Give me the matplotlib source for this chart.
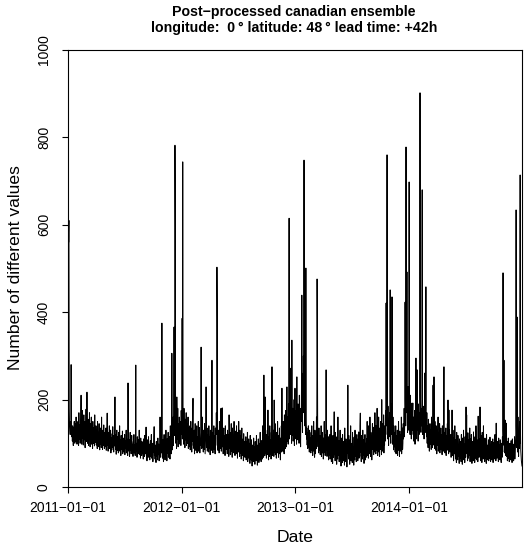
import matplotlib
matplotlib.use("Agg")
import matplotlib.pyplot as plt
import pandas as pd

plt.rcParams['font.family'] = ['Liberation Sans', 'DejaVu Sans']

start_date = "2011-01-01"
tick_dates = ["2011-01-01", "2012-01-01", "2013-01-01", "2014-01-01"]
tick_labels = ["2011\u221201\u221201", "2012\u221201\u221201", "2013\u221201\u221201", "2014\u221201\u221201"]
y_ticks = [0, 200, 400, 600, 800, 1000]

values = [
    150, 625, 560, 610, 180, 140, 130, 120, 150, 125, 280, 160, 115, 130, 105, 140, 120, 95, 135, 110, 150, 125, 100, 145, 118, 105, 160, 130, 112, 98,
    132, 105, 150, 118, 95, 170, 128, 110, 142, 100, 125, 160, 210, 135, 98, 120, 175, 112, 140, 96, 130, 165, 108, 122, 150, 90, 138, 115, 178, 104,
    126, 217, 140, 100, 118, 155, 95, 132, 110, 170, 122, 92, 145, 105, 128, 160, 98, 115, 138, 88, 150, 112, 100, 135, 120, 94, 165, 108, 125, 102,
    140, 96, 118, 130, 88, 150, 110, 100, 125, 92, 145, 105, 85, 120, 135, 98, 112, 90, 160, 102, 118, 86, 130, 108, 95, 142, 100, 88, 115, 125,
    92, 110, 135, 84, 100, 120, 169, 95, 108, 82, 125, 98, 115, 140, 88, 104, 92, 130, 78, 112, 100, 85, 122, 96, 138, 90, 105, 80, 118, 94,
    110, 206, 98, 86, 120, 75, 105, 130, 92, 84, 115, 100, 78, 125, 95, 88, 140, 82, 108, 96, 72, 118, 90, 104, 85, 128, 76, 100, 92, 112,
    80, 98, 120, 74, 105, 88, 95, 130, 78, 110, 86, 100, 72, 238, 115, 90, 82, 108, 70, 95, 125, 84, 102, 76, 92, 118, 80, 98, 88, 70,
    104, 85, 120, 78, 96, 88, 72, 110, 279, 90, 82, 100, 68, 115, 86, 94, 76, 108, 80, 130, 74, 98, 88, 66, 112, 84, 92, 72, 104, 86,
    78, 96, 64, 110, 82, 90, 70, 118, 76, 100, 86, 137, 72, 94, 60, 108, 80, 88, 68, 115, 84, 74, 98, 62, 90, 106, 70, 82, 120, 66,
    88, 76, 100, 58, 92, 80, 110, 138, 72, 84, 64, 96, 78, 56, 104, 86, 70, 90, 62, 112, 80, 74, 98, 60, 88, 76, 160, 84, 68, 100,
    78, 94, 375, 90, 66, 108, 80, 58, 96, 120, 72, 88, 62, 104, 84, 130, 70, 92, 60, 110, 78, 86, 125, 68, 98, 74, 115, 82, 64, 140,
    90, 120, 76, 105, 306, 130, 85, 110, 160, 95, 140, 366, 118, 150, 782, 595, 125, 100, 170, 88, 206, 135, 110, 180, 92, 145, 120, 98, 160, 115,
    130, 105, 150, 95, 175, 120, 140, 386, 110, 744, 165, 125, 98, 180, 115, 140, 90, 155, 130, 108, 170, 95, 125, 145, 100, 118, 160, 88, 135, 110,
    92, 125, 140, 85, 110, 150, 98, 120, 80, 135, 105, 160, 203, 95, 118, 88, 130, 76, 112, 145, 100, 84, 125, 96, 140, 78, 108, 115, 90, 150,
    82, 118, 100, 136, 78, 110, 95, 125, 320, 140, 88, 105, 160, 92, 120, 80, 130, 100, 86, 145, 110, 76, 98, 125, 229, 115, 90, 135, 82, 108,
    96, 120, 80, 140, 105, 88, 115, 74, 130, 98, 110, 84, 150, 290, 100, 125, 78, 108, 92, 140, 86, 118, 102, 76, 135, 95, 112, 170, 120, 503,
    375, 110, 84, 130, 96, 120, 78, 150, 105, 88, 140, 95, 180, 82, 115, 100, 181, 92, 125, 76, 108, 135, 88, 118, 98, 72, 140, 104, 86, 120,
    90, 110, 76, 130, 98, 84, 120, 70, 165, 102, 88, 125, 74, 112, 95, 145, 82, 106, 68, 135, 96, 78, 118, 90, 150, 84, 100, 72, 128, 92,
    110, 76, 140, 88, 104, 66, 125, 95, 80, 150, 86, 112, 70, 130, 92, 78, 118, 64, 100, 135, 84, 96, 72, 110, 60, 122, 88, 76, 104, 68,
    96, 80, 115, 62, 88, 104, 70, 125, 58, 92, 78, 110, 66, 84, 100, 54, 118, 74, 90, 62, 108, 80, 48, 96, 70, 86, 58, 112, 76, 64,
    92, 52, 104, 72, 84, 60, 118, 78, 96, 50, 88, 68, 110, 74, 56, 100, 82, 62, 125, 70, 90, 58, 106, 76, 86, 64, 140, 80, 98, 68,
    256, 88, 110, 72, 206, 95, 78, 120, 66, 104, 86, 130, 74, 176, 98, 62, 115, 84, 70, 140, 92, 76, 108, 64, 125, 88, 275, 100, 72, 118,
    84, 130, 70, 199, 96, 80, 145, 74, 110, 88, 66, 125, 92, 78, 150, 84, 104, 68, 118, 90, 135, 76, 100, 62, 112, 86, 140, 80, 226, 94,
    120, 82, 150, 96, 110, 76, 165, 100, 130, 88, 175, 115, 92, 140, 229, 105, 160, 125, 98, 190, 145, 615, 110, 170, 135, 120, 210, 272, 150, 100,
    336, 140, 118, 180, 105, 160, 128, 200, 95, 150, 226, 120, 175, 110, 145, 98, 252, 130, 165, 108, 190, 125, 140, 100, 210, 115, 155, 135, 92, 180,
    150, 240, 439, 200, 125, 260, 170, 300, 185, 748, 230, 140, 195, 160, 120, 501, 150, 110, 135, 96, 125, 88, 115, 140, 92, 108, 80, 130, 100, 86,
    112, 78, 125, 95, 140, 84, 104, 72, 118, 90, 150, 82, 100, 68, 130, 94, 76, 115, 88, 160, 105, 476, 336, 120, 92, 110, 78, 135, 98, 84,
    118, 74, 100, 88, 140, 70, 106, 92, 125, 78, 96, 64, 112, 86, 150, 80, 98, 72, 120, 90, 268, 84, 108, 70, 130, 94, 76, 115, 62, 100,
    86, 72, 120, 64, 96, 80, 140, 58, 104, 76, 92, 54, 118, 84, 68, 110, 172, 74, 96, 60, 125, 82, 70, 100, 52, 115, 78, 64, 160, 88,
    72, 106, 58, 90, 80, 130, 62, 98, 48, 112, 76, 86, 56, 120, 70, 94, 60, 104, 82, 50, 135, 74, 92, 58, 110, 66, 84, 46, 100, 78,
    233, 90, 64, 118, 72, 96, 52, 108, 80, 140, 60, 88, 74, 100, 56, 125, 84, 68, 92, 50, 114, 78, 62, 130, 86, 70, 104, 58, 96, 120,
    74, 88, 60, 110, 82, 126, 66, 94, 70, 140, 169, 80, 102, 58, 118, 76, 92, 64, 130, 84, 72, 108, 54, 96, 78, 120, 62, 90, 100, 68,
    110, 84, 150, 72, 98, 120, 66, 140, 88, 104, 76, 160, 92, 70, 125, 82, 115, 62, 100, 145, 86, 137, 96, 74, 130, 108, 80, 170, 90, 118,
    76, 140, 98, 84, 180, 105, 72, 125, 92, 160, 80, 112, 70, 135, 95, 150, 86, 118, 74, 200, 100, 82, 145, 110, 90, 165, 78, 128, 96, 140,
    105, 175, 120, 421, 140, 200, 760, 160, 110, 185, 130, 95, 150, 115, 170, 125, 451, 140, 100, 190, 120, 145, 435, 130, 98, 160, 112, 85, 140, 105,
    92, 125, 80, 110, 140, 76, 100, 118, 88, 130, 72, 106, 95, 150, 84, 115, 70, 128, 98, 82, 120, 90, 160, 76, 108, 135, 86, 100, 145, 110,
    130, 180, 115, 150, 423, 200, 140, 778, 170, 210, 492, 160, 125, 230, 145, 190, 130, 698, 175, 150, 120, 210, 135, 165, 110, 150, 192, 130, 170, 192,
    120, 160, 105, 145, 130, 175, 98, 150, 125, 295, 140, 110, 180, 268, 130, 160, 105, 190, 145, 120, 170, 135, 902, 210, 150, 125, 180, 140, 200, 680,
    160, 120, 185, 130, 150, 110, 175, 140, 261, 125, 190, 458, 150, 115, 170, 100, 140, 125, 90, 155, 110, 135, 82, 120, 145, 98, 112, 130, 86, 160,
    104, 125, 90, 140, 233, 110, 96, 252, 130, 88, 150, 100, 120, 84, 140, 108, 76, 130, 95, 115, 160, 82, 104, 125, 90, 145, 78, 110, 98, 135,
    86, 120, 100, 74, 140, 92, 110, 82, 150, 275, 96, 125, 78, 108, 90, 135, 72, 118, 100, 84, 145, 92, 199, 110, 76, 176, 98, 130, 80, 106,
    90, 120, 68, 104, 82, 176, 94, 72, 130, 86, 60, 112, 96, 76, 140, 84, 64, 108, 92, 56, 125, 78, 100, 62, 118, 86, 70, 96, 54, 110,
    80, 66, 104, 88, 58, 120, 74, 92, 52, 112, 84, 70, 130, 62, 98, 78, 56, 115, 86, 68, 183, 94, 165, 76, 100, 60, 124, 82, 66, 108,
    72, 96, 135, 58, 110, 80, 64, 120, 88, 54, 104, 76, 92, 60, 126, 84, 70, 100, 56, 115, 78, 66, 140, 88, 62, 108, 74, 96, 58, 162,
    84, 110, 68, 96, 76, 183, 90, 60, 118, 80, 100, 56, 125, 74, 92, 64, 140, 82, 70, 104, 58, 112, 86, 66, 98, 54, 120, 78, 88, 62,
    96, 72, 108, 60, 86, 100, 66, 114, 78, 58, 92, 82, 104, 62, 88, 70, 110, 56, 94, 76, 102, 64, 86, 120, 70, 98, 60, 146, 80, 92,
    66, 104, 74, 88, 58, 112, 82, 70, 96, 62, 108, 76, 90, 56, 100, 84, 68, 115, 80, 490, 130, 96, 290, 110, 78, 100, 153, 86, 72, 146,
    88, 70, 104, 60, 92, 78, 112, 66, 96, 58, 84, 100, 72, 88, 62, 106, 76, 94, 56, 110, 82, 68, 98, 60, 90, 74, 115, 64, 86, 100,
    120, 634, 140, 90, 389, 110, 80, 160, 96, 70, 125, 88, 150, 100, 714, 130, 84, 72, 60, 54, 48,
]

title_line1 = "Post\u2212processed canadian ensemble"
title_line2 = "longitude:  0\u2009\u00b0 latitude: 48\u2009\u00b0 lead time: +42h"
x_label = "Date"
y_label = "Number of different values"

dates = pd.date_range(start_date, periods=len(values), freq="D")

W, H = 526, 546
fig = plt.figure(figsize=(W / 100, H / 100), dpi=100)
ax = fig.add_axes([68 / W, 1 - 487 / H, (522 - 68) / W, (487 - 50) / H])

ax.plot(dates, values, color="black", linewidth=0.7)

ax.set_xlim(dates[0], dates[-1])
ax.set_ylim(0, 1000)
ax.set_xticks(pd.to_datetime(tick_dates))
ax.set_xticklabels(tick_labels)
ax.set_yticks(y_ticks)
ax.set_yticklabels([str(v) for v in y_ticks], rotation=90, va="center")

ax.tick_params(axis="both", direction="out", length=4.3, width=0.8,
               labelsize=10, colors="black")
ax.tick_params(axis="x", pad=6.0)
ax.tick_params(axis="y", pad=8.0)
for s in ax.spines.values():
    s.set_linewidth(0.8)
    s.set_color("black")

fig.text(295 / W, 1 - 537 / H, x_label, ha="center", va="center", fontsize=12.6)
fig.text(16 / W, 1 - 268 / H, y_label, ha="center", va="center", rotation=90, fontsize=12.6)
fig.text(294 / W, 1 - 12 / H, title_line1, ha="center", va="center", fontsize=10.2, fontweight="bold")
fig.text(294 / W, 1 - 28 / H, title_line2, ha="center", va="center", fontsize=10.2, fontweight="bold")

fig.savefig("out.png", dpi=100)
